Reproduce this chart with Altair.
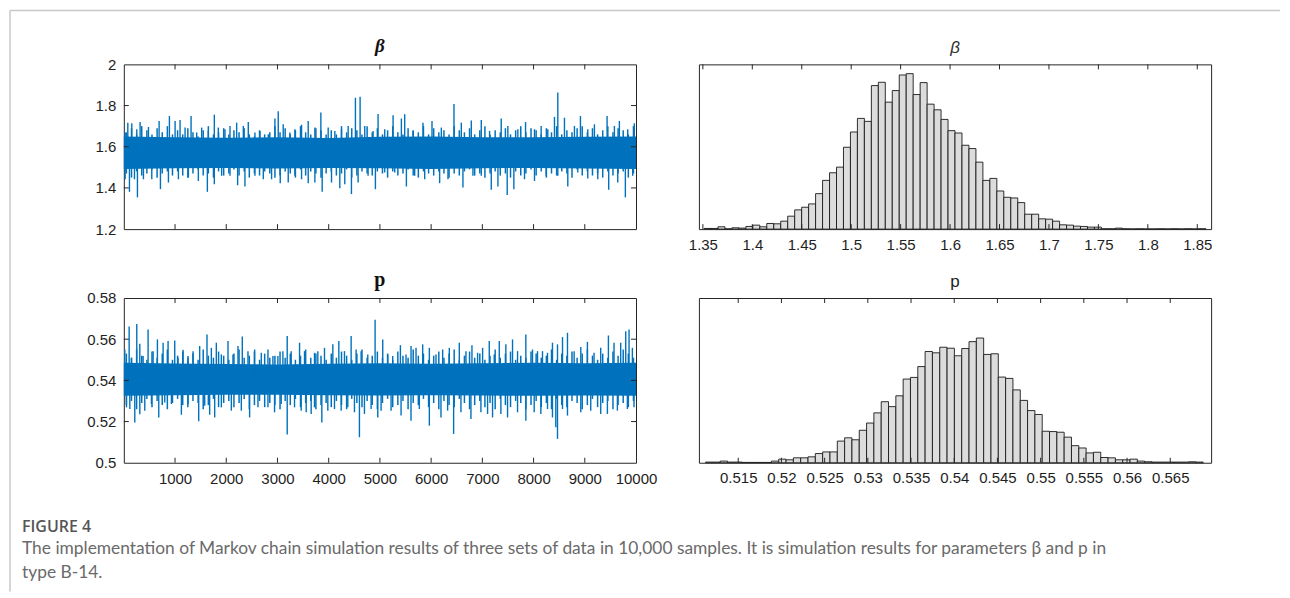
import altair as alt
import pandas as pd

# ---------------- data ----------------
# Trace of beta: larger upward excursions (sample index, value)
beta_up_s = [26, 78, 156, 253, 318, 481, 689, 890, 1001, 1098, 1196, 1313, 1423, 1520, 1650, 1767, 1845, 1975, 2073, 2203,
             2333, 2430, 2560, 2658, 2820, 2950, 3015, 3112, 3242, 3340, 3470, 3600, 3730, 3847, 3990, 4120, 4250, 4380, 4522, 4613,
             4704, 4867, 4964, 5094, 5257, 5419, 5484, 5646, 5841, 6017, 6199, 6446, 6589, 6784, 6979, 7141, 7368, 7498, 7693, 7843,
             8018, 8148, 8278, 8408, 8473, 8603, 8798, 8915, 9058, 9188, 9435, 9578, 9675, 9838, 9967]
beta_up_v = [1.669, 1.717, 1.714, 1.685, 1.720, 1.696, 1.725, 1.749, 1.725, 1.730, 1.693, 1.749, 1.669, 1.693, 1.677, 1.756, 1.693, 1.685, 1.701, 1.717,
             1.701, 1.720, 1.669, 1.677, 1.661, 1.737, 1.772, 1.709, 1.669, 1.685, 1.707, 1.725, 1.693, 1.766, 1.693, 1.677, 1.685, 1.701, 1.838, 1.843,
             1.701, 1.677, 1.759, 1.685, 1.753, 1.737, 1.758, 1.677, 1.717, 1.725, 1.693, 1.808, 1.717, 1.727, 1.730, 1.677, 1.737, 1.701, 1.685, 1.720,
             1.685, 1.701, 1.685, 1.745, 1.863, 1.741, 1.701, 1.749, 1.685, 1.709, 1.749, 1.701, 1.725, 1.685, 1.714]
# Trace of beta: larger downward excursions
beta_lo_s = [26, 110, 208, 266, 383, 546, 715, 871, 1066, 1261, 1455, 1631, 1767, 1910, 2073, 2222, 2365, 2560, 2723, 2885,
             3054, 3210, 3340, 3470, 3600, 3730, 3873, 4055, 4217, 4314, 4444, 4574, 4769, 4912, 5094, 5289, 5517, 5679, 5874, 6166,
             6329, 6621, 6816, 6979, 7174, 7304, 7485, 7615, 7823, 8018, 8246, 8473, 8668, 8863, 9058, 9253, 9467, 9643, 9792, 9935]
beta_lo_v = [1.442, 1.381, 1.442, 1.354, 1.442, 1.442, 1.394, 1.426, 1.442, 1.451, 1.434, 1.381, 1.418, 1.459, 1.459, 1.413, 1.407, 1.459, 1.442, 1.442,
             1.423, 1.426, 1.459, 1.442, 1.423, 1.426, 1.381, 1.426, 1.399, 1.418, 1.370, 1.426, 1.459, 1.394, 1.475, 1.475, 1.407, 1.459, 1.442, 1.423,
             1.442, 1.402, 1.459, 1.459, 1.391, 1.407, 1.366, 1.394, 1.442, 1.434, 1.459, 1.459, 1.407, 1.475, 1.446, 1.442, 1.391, 1.426, 1.354, 1.459]
# Trace of beta: ragged edge of the dense band, one estimate per 100 samples
beta_edge_hi = [1.67, 1.69, 1.66, 1.70, 1.68, 1.66, 1.69, 1.67, 1.70, 1.66, 1.68, 1.66, 1.69, 1.67, 1.65, 1.68, 1.70, 1.66, 1.67, 1.69,
                1.66, 1.68, 1.67, 1.69, 1.66, 1.65, 1.68, 1.66, 1.67, 1.70, 1.67, 1.69, 1.66, 1.68, 1.70, 1.67, 1.66, 1.69, 1.68, 1.66,
                1.68, 1.66, 1.70, 1.67, 1.69, 1.68, 1.66, 1.70, 1.67, 1.69, 1.66, 1.68, 1.70, 1.67, 1.66, 1.69, 1.68, 1.67, 1.70, 1.66,
                1.69, 1.67, 1.68, 1.66, 1.70, 1.68, 1.67, 1.69, 1.66, 1.68, 1.70, 1.66, 1.68, 1.67, 1.69, 1.66, 1.68, 1.70, 1.67, 1.69,
                1.68, 1.66, 1.69, 1.67, 1.70, 1.66, 1.68, 1.67, 1.69, 1.70, 1.67, 1.69, 1.66, 1.68, 1.70, 1.67, 1.69, 1.68, 1.66, 1.70]
beta_edge_lo = [1.47, 1.45, 1.48, 1.46, 1.47, 1.49, 1.45, 1.47, 1.48, 1.46, 1.48, 1.46, 1.45, 1.47, 1.49, 1.46, 1.47, 1.45, 1.48, 1.46,
                1.47, 1.49, 1.46, 1.48, 1.45, 1.47, 1.46, 1.48, 1.47, 1.45, 1.46, 1.48, 1.47, 1.45, 1.49, 1.46, 1.48, 1.47, 1.45, 1.47,
                1.48, 1.46, 1.47, 1.49, 1.45, 1.46, 1.48, 1.47, 1.46, 1.48, 1.47, 1.45, 1.48, 1.46, 1.47, 1.49, 1.46, 1.45, 1.48, 1.47,
                1.46, 1.48, 1.47, 1.45, 1.47, 1.46, 1.48, 1.49, 1.46, 1.47, 1.45, 1.47, 1.48, 1.46, 1.47, 1.45, 1.48, 1.46, 1.47, 1.49,
                1.46, 1.48, 1.45, 1.47, 1.46, 1.48, 1.47, 1.45, 1.49, 1.46, 1.48, 1.46, 1.47, 1.45, 1.48, 1.46, 1.47, 1.48, 1.45, 1.47]
# Dense core of the beta trace
band_s = [0, 1000, 2000, 3000, 4000, 5000, 6000, 7000, 8000, 9000, 10000]
beta_core_hi = [1.650, 1.646, 1.644, 1.646, 1.642, 1.648, 1.650, 1.646, 1.646, 1.648, 1.650]
beta_core_lo = [1.492, 1.496, 1.497, 1.494, 1.497, 1.496, 1.492, 1.496, 1.497, 1.494, 1.492]
beta_center = 1.57

# Trace of p: larger upward excursions
p_up_s = [19, 104, 149, 253, 312, 377, 474, 572, 656, 767, 864, 994, 1059, 1157, 1254, 1352, 1481, 1624, 1709, 1806,
          1904, 2034, 2131, 2229, 2313, 2424, 2554, 2684, 2814, 2911, 3008, 3106, 3190, 3268, 3431, 3528, 3723, 3788, 3918, 4081,
          4198, 4308, 4438, 4535, 4633, 4763, 4906, 5055, 5153, 5250, 5400, 5510, 5608, 5705, 5835, 5965, 6095, 6225, 6355, 6550,
          6680, 6797, 6907, 7005, 7135, 7232, 7330, 7459, 7589, 7687, 7849, 7979, 8077, 8174, 8272, 8369, 8467, 8565, 8662, 8792,
          8922, 9051, 9181, 9311, 9461, 9571, 9701, 9799, 9864, 9929]
p_up_v = [0.5550, 0.5662, 0.5510, 0.5674, 0.5578, 0.5518, 0.5647, 0.5542, 0.5599, 0.5583, 0.5591, 0.5594, 0.5510, 0.5549, 0.5518, 0.5542, 0.5567, 0.5623, 0.5558, 0.5583,
          0.5526, 0.5591, 0.5526, 0.5567, 0.5613, 0.5542, 0.5550, 0.5534, 0.5550, 0.5518, 0.5518, 0.5542, 0.5615, 0.5542, 0.5583, 0.5542, 0.5534, 0.5542, 0.5558, 0.5575,
          0.5591, 0.5542, 0.5615, 0.5550, 0.5542, 0.5526, 0.5694, 0.5599, 0.5526, 0.5518, 0.5571, 0.5526, 0.5567, 0.5558, 0.5575, 0.5558, 0.5526, 0.5550, 0.5558, 0.5583,
          0.5542, 0.5571, 0.5534, 0.5558, 0.5591, 0.5526, 0.5591, 0.5575, 0.5599, 0.5542, 0.5623, 0.5550, 0.5542, 0.5542, 0.5534, 0.5583, 0.5575, 0.5610, 0.5631, 0.5542,
          0.5562, 0.5587, 0.5534, 0.5558, 0.5618, 0.5583, 0.5583, 0.5639, 0.5647, 0.5558]
# Trace of p: larger downward excursions
p_lo_s = [52, 117, 214, 312, 409, 539, 682, 799, 929, 1124, 1254, 1462, 1579, 1676, 1774, 1904, 2099, 2294, 2456, 2619,
          2814, 2943, 3073, 3190, 3333, 3463, 3561, 3658, 3723, 3866, 3983, 4113, 4243, 4373, 4503, 4600, 4698, 4828, 4958, 5023,
          5218, 5413, 5607, 5770, 5965, 6192, 6322, 6439, 6582, 6777, 6972, 7102, 7199, 7362, 7492, 7687, 7849, 8012, 8142, 8272,
          8369, 8434, 8467, 8565, 8662, 8922, 9116, 9311, 9441, 9636, 9831, 9961]
p_lo_v = [0.5269, 0.5261, 0.5196, 0.5236, 0.5253, 0.5285, 0.5220, 0.5293, 0.5285, 0.5233, 0.5285, 0.5201, 0.5277, 0.5233, 0.5220, 0.5269, 0.5253, 0.5253, 0.5220, 0.5269,
          0.5269, 0.5245, 0.5285, 0.5137, 0.5269, 0.5253, 0.5245, 0.5237, 0.5269, 0.5196, 0.5253, 0.5261, 0.5253, 0.5269, 0.5245, 0.5124, 0.5237, 0.5261, 0.5220, 0.5253,
          0.5253, 0.5229, 0.5204, 0.5261, 0.5180, 0.5220, 0.5253, 0.5140, 0.5245, 0.5212, 0.5245, 0.5237, 0.5220, 0.5237, 0.5220, 0.5245, 0.5204, 0.5245, 0.5237, 0.5261,
          0.5220, 0.5172, 0.5116, 0.5261, 0.5229, 0.5245, 0.5253, 0.5237, 0.5237, 0.5253, 0.5261, 0.5269]
# Trace of p: ragged edge of the dense band, one estimate per 100 samples
p_edge_hi = [0.553, 0.551, 0.555, 0.552, 0.550, 0.554, 0.551, 0.553, 0.555, 0.550, 0.552, 0.554, 0.551, 0.553, 0.550, 0.555, 0.552, 0.551, 0.554, 0.552,
             0.550, 0.553, 0.555, 0.551, 0.552, 0.554, 0.550, 0.553, 0.551, 0.552, 0.554, 0.551, 0.553, 0.550, 0.552, 0.555, 0.551, 0.553, 0.552, 0.550,
             0.553, 0.551, 0.554, 0.552, 0.550, 0.553, 0.555, 0.551, 0.552, 0.554, 0.551, 0.553, 0.550, 0.554, 0.552, 0.551, 0.555, 0.552, 0.553, 0.550,
             0.552, 0.554, 0.551, 0.553, 0.555, 0.550, 0.552, 0.554, 0.551, 0.553, 0.550, 0.552, 0.555, 0.551, 0.553, 0.554, 0.550, 0.552, 0.551, 0.554,
             0.553, 0.551, 0.552, 0.555, 0.550, 0.553, 0.552, 0.554, 0.551, 0.553, 0.555, 0.552, 0.550, 0.553, 0.551, 0.554, 0.552, 0.555, 0.553, 0.551]
p_edge_lo = [0.528, 0.530, 0.526, 0.529, 0.531, 0.527, 0.530, 0.528, 0.526, 0.529, 0.531, 0.528, 0.527, 0.530, 0.529, 0.526, 0.528, 0.531, 0.527, 0.529,
             0.530, 0.527, 0.529, 0.531, 0.526, 0.528, 0.530, 0.527, 0.529, 0.528, 0.526, 0.530, 0.528, 0.531, 0.527, 0.529, 0.530, 0.526, 0.528, 0.529,
             0.527, 0.530, 0.528, 0.526, 0.531, 0.529, 0.527, 0.530, 0.528, 0.526, 0.529, 0.531, 0.527, 0.528, 0.530, 0.526, 0.529, 0.528, 0.531, 0.527,
             0.529, 0.526, 0.530, 0.528, 0.527, 0.531, 0.529, 0.526, 0.528, 0.530, 0.527, 0.529, 0.526, 0.531, 0.528, 0.527, 0.530, 0.529, 0.526, 0.528,
             0.530, 0.527, 0.529, 0.526, 0.531, 0.528, 0.527, 0.530, 0.529, 0.526, 0.528, 0.531, 0.527, 0.529, 0.530, 0.526, 0.528, 0.529, 0.527, 0.530]
p_core_hi = [0.5485, 0.5482, 0.5479, 0.5477, 0.5481, 0.5483, 0.5481, 0.5483, 0.5485, 0.5483, 0.5485]
p_core_lo = [0.5325, 0.5328, 0.5330, 0.5330, 0.5328, 0.5326, 0.5328, 0.5326, 0.5325, 0.5327, 0.5325]
p_center = 0.5405

# Histogram of beta: first bin edge, bin width, bar heights (relative frequency)
beta_bin_start = 1.3512
beta_bin_width = 0.00705
beta_counts = [2, 2, 7, 1, 4, 3, 8, 12, 7, 17, 16, 24, 39, 58, 66, 76, 107, 147, 170, 187,
               247, 293, 334, 325, 433, 443, 383, 418, 465, 469, 406, 442, 377, 360, 331, 297, 290, 253, 243, 202,
               147, 153, 115, 96, 94, 80, 45, 45, 31, 30, 24, 13, 12, 9, 8, 6, 6, 1, 1, 3,
               1, 0.5, 1, 0.5, 0.5, 1, 0.5, 1, 0.5, 1, 0.5, 1]
beta_hist_ymax = 497

# Histogram of p
p_bin_start = 0.51122
p_bin_width = 0.000847
p_counts = [2, 2, 5, 2, 2, 1, 1, 1, 1, 5, 11, 9, 15, 15, 18, 28, 33, 33, 66, 76,
            70, 99, 121, 152, 186, 171, 204, 255, 260, 293, 339, 335, 352, 349, 326, 348, 369, 380, 330, 332,
            261, 257, 222, 190, 159, 147, 96, 95, 93, 78, 52, 45, 30, 32, 16, 15, 9, 9, 11, 5,
            3, 2, 2, 2, 2, 2, 3, 2]
p_hist_ymax = 502

# Axis tick values
trace_xticks = [1000, 2000, 3000, 4000, 5000, 6000, 7000, 8000, 9000, 10000]
beta_yticks = [1.2, 1.4, 1.6, 1.8, 2.0]
p_yticks = [0.5, 0.52, 0.54, 0.56, 0.58]
beta_hist_ticks = [1.35, 1.4, 1.45, 1.5, 1.55, 1.6, 1.65, 1.7, 1.75, 1.8, 1.85]
p_hist_ticks = [0.515, 0.52, 0.525, 0.53, 0.535, 0.54, 0.545, 0.55, 0.555, 0.56, 0.565]

caption_head = "FIGURE 4"
caption_line1 = ("The implementation of Markov chain simulation results of three sets of data in 10,000 samples. "
                 "It is simulation results for parameters \u03b2 and p in")
caption_line2 = "type B-14."

# ---------------- styling ----------------
BLUE = "#0072BD"
AX = "#262626"
W = 513
H = 165
TICK = 5
LBL = dict(labelFont="Liberation Sans", labelFontSize=15, labelColor="#1e1e1e")


def tick_rules(vals, scale, axis, orient, w, h):
    df = pd.DataFrame({"v": vals})
    layers = []
    if orient == "x":
        enc = dict(x=alt.X("v:Q", scale=scale, axis=axis))
        layers.append(alt.Chart(df).mark_rule(color=AX, strokeWidth=1).encode(
            y=alt.value(0), y2=alt.value(TICK), **enc))
        layers.append(alt.Chart(df).mark_rule(color=AX, strokeWidth=1).encode(
            y=alt.value(h - TICK), y2=alt.value(h), **enc))
    else:
        enc = dict(y=alt.Y("v:Q", scale=scale, axis=axis))
        layers.append(alt.Chart(df).mark_rule(color=AX, strokeWidth=1).encode(
            x=alt.value(0), x2=alt.value(TICK), **enc))
        layers.append(alt.Chart(df).mark_rule(color=AX, strokeWidth=1).encode(
            x=alt.value(w - TICK), x2=alt.value(w), **enc))
    return layers


def trace_panel(up_s, up_v, lo_s, lo_v, edge_hi, edge_lo, core_hi, core_lo, center,
                ydom, yticks, show_xlabels, title_text, title_style, h):
    xs = alt.Scale(domain=[0, 10000], nice=False, zero=False)
    ys = alt.Scale(domain=ydom, nice=False, zero=False)
    xaxis = alt.Axis(values=trace_xticks, format="d", labels=show_xlabels, ticks=False, domain=False,
                     grid=False, title=None, labelPadding=9, labelFlush=False, **LBL)
    yaxis = alt.Axis(values=yticks, format=".2~f", ticks=False, domain=False, grid=False, title=None,
                     labelPadding=8, **LBL)
    band = pd.DataFrame({"s": band_s, "hi": core_hi, "lo": core_lo})
    core = alt.Chart(band).mark_area(color=BLUE, opacity=1).encode(
        x=alt.X("s:Q", scale=xs, axis=xaxis), y=alt.Y("hi:Q", scale=ys, axis=yaxis), y2="lo:Q")
    n = len(edge_hi)
    edge_s = [100 * i + 50 for i in range(n)]
    edges = pd.DataFrame({"s": edge_s, "hi": edge_hi, "lo": edge_lo})
    e1 = alt.Chart(edges).mark_rule(color=BLUE, strokeWidth=1.5).encode(
        x=alt.X("s:Q", scale=xs, axis=xaxis), y=alt.Y("hi:Q", scale=ys, axis=yaxis), y2="lo:Q")
    up = pd.DataFrame({"s": up_s, "v": up_v, "c": [center] * len(up_s)})
    lo = pd.DataFrame({"s": lo_s, "v": lo_v, "c": [center] * len(lo_s)})
    r1 = alt.Chart(up).mark_rule(color=BLUE, strokeWidth=1.4).encode(
        x=alt.X("s:Q", scale=xs, axis=xaxis), y=alt.Y("v:Q", scale=ys, axis=yaxis), y2="c:Q")
    r2 = alt.Chart(lo).mark_rule(color=BLUE, strokeWidth=1.4).encode(
        x=alt.X("s:Q", scale=xs, axis=xaxis), y=alt.Y("v:Q", scale=ys, axis=yaxis), y2="c:Q")
    t = alt.Chart(pd.DataFrame({"t": [title_text]})).mark_text(
        baseline="alphabetic", align="center", **title_style).encode(
        x=alt.value(W / 2), y=alt.value(-12), text="t:N")
    layers = [core, e1, r1, r2]
    layers += tick_rules(trace_xticks[:-1], xs, xaxis, "x", W, h)
    layers += tick_rules(yticks[1:-1], ys, yaxis, "y", W, h)
    layers.append(t)
    return layers


def hist_chart(start, width, counts, ymax, ticks, fmt, xdom, title_text, title_style, h):
    edges0 = [start + i * width for i in range(len(counts))]
    df = pd.DataFrame({"x0": edges0, "x1": [e + width for e in edges0], "n": counts})
    xs = alt.Scale(domain=xdom, nice=False, zero=False)
    ys = alt.Scale(domain=[0, ymax], nice=False)
    xaxis = alt.Axis(values=ticks, format=fmt, ticks=False, domain=False, grid=False, title=None,
                     labelPadding=8, labelFlush=False, **LBL)
    bars = alt.Chart(df).mark_rect(fill="#DCDCDC", stroke="#1a1a1a", strokeWidth=0.9).encode(
        x=alt.X("x0:Q", scale=xs, axis=xaxis), x2="x1:Q",
        y=alt.Y("n:Q", scale=ys, axis=None), y2=alt.value(h))
    t = alt.Chart(pd.DataFrame({"t": [title_text]})).mark_text(
        baseline="alphabetic", align="center", **title_style).encode(
        x=alt.value(W / 2), y=alt.value(-11), text="t:N")
    layers = [bars] + tick_rules(ticks, xs, xaxis, "x", W, h) + [t]
    return alt.layer(*layers).properties(width=W, height=h)


# ---- beta trace (top left) ----
tl_layers = trace_panel(beta_up_s, beta_up_v, beta_lo_s, beta_lo_v, beta_edge_hi, beta_edge_lo,
                        beta_core_hi, beta_core_lo, beta_center, [1.2, 2.0], beta_yticks, False,
                        "\u03b2", dict(font="Liberation Serif", fontSize=19, fontStyle="italic",
                                       fontWeight="bold", color="#111"), H)
frame_top = alt.Chart(pd.DataFrame({"a": [0]})).mark_rule(color="#c8c8c8", strokeWidth=1.5).encode(
    x=alt.value(-114), x2=alt.value(1158), y=alt.value(-54))
frame_left = alt.Chart(pd.DataFrame({"a": [0]})).mark_rule(color="#c8c8c8", strokeWidth=1.5).encode(
    x=alt.value(-114), y=alt.value(-54), y2=alt.value(528))
tl = alt.layer(*tl_layers, frame_top, frame_left).properties(width=W, height=H)

# ---- p trace (bottom left) ----
bl_layers = trace_panel(p_up_s, p_up_v, p_lo_s, p_lo_v, p_edge_hi, p_edge_lo, p_core_hi, p_core_lo,
                        p_center, [0.5, 0.58], p_yticks, True,
                        "p", dict(font="Liberation Serif", fontSize=20, fontWeight="bold", color="#111"), H)

cap_df = pd.DataFrame({"t": [caption_head, caption_line1, caption_line2]})
cap_head = alt.Chart(cap_df.iloc[[0]]).mark_text(
    align="left", baseline="alphabetic", font="Open Sans", fontSize=16, fontWeight=600, color="#555555").encode(
    x=alt.value(-102), y=alt.value(234), text="t:N")
cap_l1 = alt.Chart(cap_df.iloc[[1]]).mark_text(
    align="left", baseline="alphabetic", font="Lato", fontSize=17.4, color="#6a6a6a").encode(
    x=alt.value(-102), y=alt.value(256), text="t:N")
cap_l2 = alt.Chart(cap_df.iloc[[2]]).mark_text(
    align="left", baseline="alphabetic", font="Lato", fontSize=17.4, color="#6a6a6a").encode(
    x=alt.value(-102), y=alt.value(280), text="t:N")
bl = alt.layer(*bl_layers, cap_head, cap_l1, cap_l2).properties(width=W, height=H)

# ---- histograms (right column) ----
tr = hist_chart(beta_bin_start, beta_bin_width, beta_counts, beta_hist_ymax, beta_hist_ticks, ".2~f",
                [1.346, 1.864], "\u03b2",
                dict(font="Liberation Sans", fontSize=17, fontStyle="italic", color="#333"), H)
br = hist_chart(p_bin_start, p_bin_width, p_counts, p_hist_ymax, p_hist_ticks, ".3~f",
                [0.51045, 0.56973], "p",
                dict(font="Liberation Sans", fontSize=17, color="#222"), H)

chart = alt.concat(tl, tr, bl, br, columns=2, spacing=alt.RowColnumber(row=69, column=63),
                   bounds="flush").properties(
    padding=0, background="white"
).configure_view(
    stroke=AX, strokeWidth=1
)

chart.save("out.html", embed_options={"renderer": "svg", "actions": False})
